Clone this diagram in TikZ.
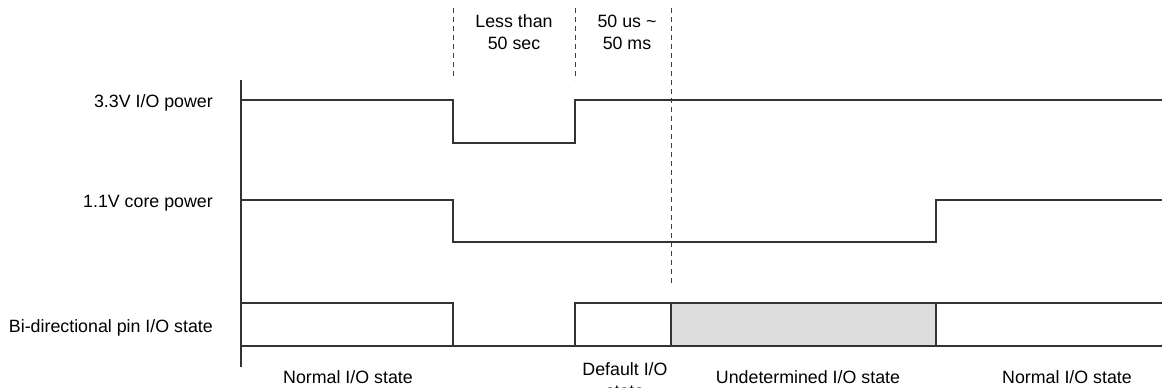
\documentclass[tikz,border=0pt]{standalone}
\usepackage{fontspec}
\setmainfont{Liberation Sans}
\definecolor{undet}{HTML}{DCDDDC}
\begin{document}
\begin{tikzpicture}[x=1pt,y=-1pt,font=\fontsize{17.8}{22}\selectfont]
		\tikzstyle{wave}=[draw=black!80,line width=1.4pt]
		\tikzstyle{marker}=[draw=black!75,line width=0.9pt,dash pattern=on 5pt off 4pt]
		\tikzstyle{signame}=[anchor=base east,inner sep=0pt]
		\tikzstyle{period}=[align=center,inner sep=0pt]
		\tikzstyle{iostate}=[anchor=base,inner sep=0pt]
		\useasboundingbox (0,0) rectangle (1162,388);
		
		% time markers
		\foreach \t/\b in {453/80,575/80,671/285}
		{\draw[marker] (\t,8) -- (\t,\b);}
		\node[period] (wait) at (514,32.5) {Less than\\50 sec};
		\node[period] (delay) at (627,32.5) {50 us \char`\~\\50 ms};
		
		% signals
		\node[signame] (io) at (213,107.5) {3.3V I/O power};
		\node[signame] (core) at (213,207) {1.1V core power};
		\node[signame] (pin) at (213,332) {Bi-directional pin I/O state};
		\path[fill=undet] (671,303) rectangle (936,346);
		\draw[wave] (241,80) -- (241,367);
		\draw[wave] (241,100) -- (453,100) -- (453,143) -- (575,143) -- (575,100) -- (1162,100);
		\draw[wave] (241,200) -- (453,200) -- (453,242) -- (936,242) -- (936,200) -- (1162,200);
		\draw[wave] (241,303) -- (453,303) -- (453,346);
		\draw[wave] (241,346) -- (1162,346);
		\draw[wave] (575,346) -- (575,303) -- (1162,303);
		\draw[wave] (671,303) -- (671,346);
		\draw[wave] (936,303) -- (936,346);
		
		% states
		\node[iostate] (norm1) at (348,383) {Normal I/O state};
		\node[period,anchor=north] (dflt) at (625,362) {Default I/O\\state};
		\node[iostate] (undef) at (808,383) {Undetermined I/O state};
		\node[iostate] (norm2) at (1067,383) {Normal I/O state};
		
\end{tikzpicture}
\end{document}
